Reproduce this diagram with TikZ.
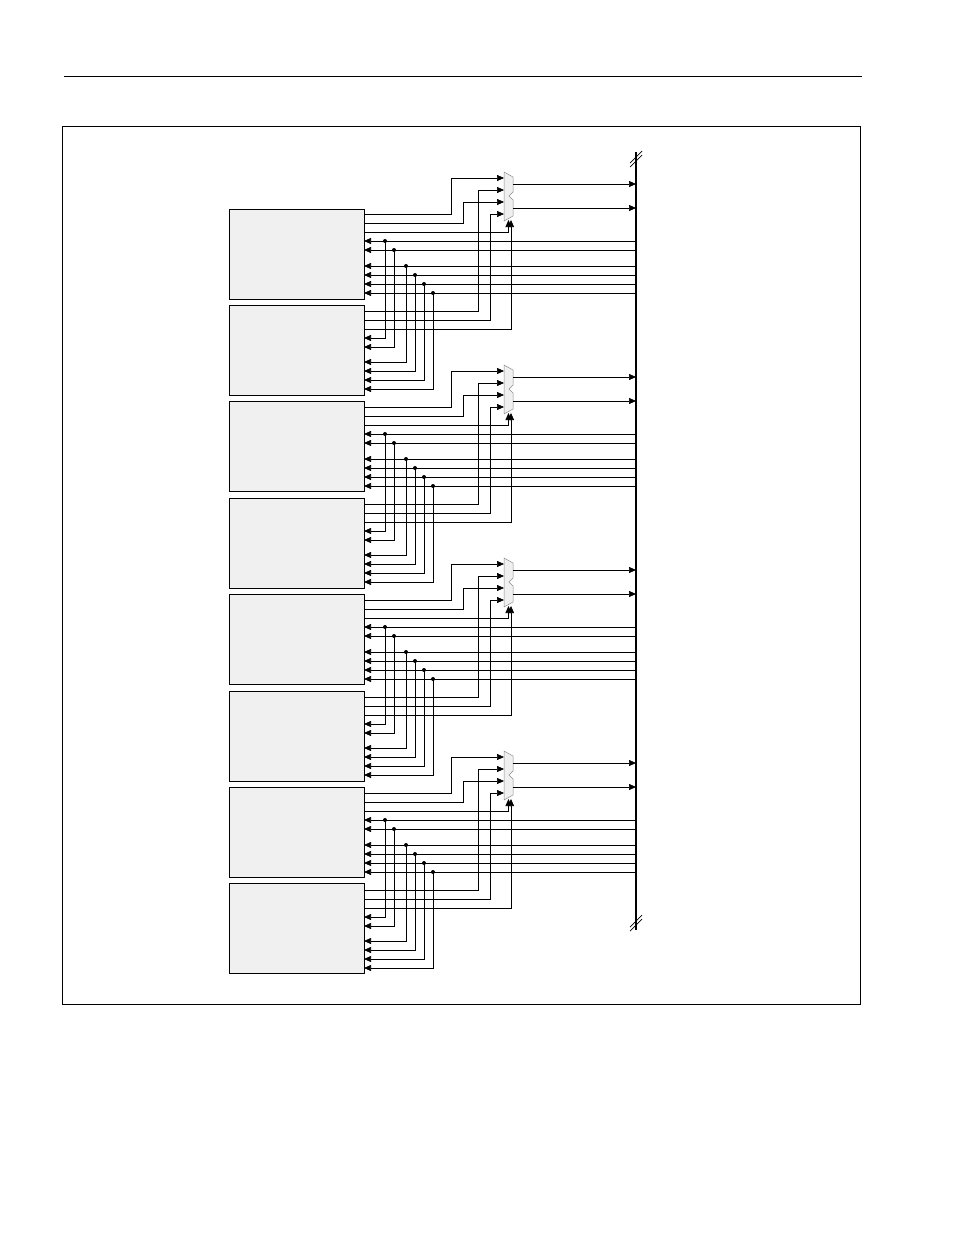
\documentclass[tikz,border=0pt]{standalone}
\usetikzlibrary{arrows.meta}
\tikzset{
  blockbox/.style={draw,fill=black!6,line width=0.6pt},
  muxbox/.style={draw=black!45,fill=black!6,line width=0.5pt},
  wire/.style={line width=0.7pt},
  sig/.style={wire,-{Triangle[length=7pt,width=6pt]}},
  tap/.style={fill,circle,inner sep=0pt,minimum size=4pt}
}
\begin{document}
\begin{tikzpicture}[x=1pt,y=-1pt]
\useasboundingbox (0,0) rectangle (954,1235);
% page rule and frame
\draw[line width=0.6pt] (64,76) -- (862,76);
\draw[line width=0.6pt] (62,126) rectangle (860,1004);
% bus
\draw[line width=1.6pt] (636,152) -- (636,930);
\draw[line width=0.7pt] (630,163) -- (642,151) (630,167) -- (642,155);
\draw[line width=0.7pt] (630,927) -- (642,915) (630,931) -- (642,919);
% blocks
\foreach \i in {0,...,7}
  \node[blockbox,minimum width=135pt,minimum height=90pt,anchor=north west,inner sep=0pt] (blk\i) at (229,{208.5+96.4*\i}) {};
% groups of two blocks, two muxes
\foreach \g in {0,...,3}{
  \pgfmathsetmacro{\o}{193*\g}
  % muxes
  \draw[muxbox] (504,172+\o) -- (513,177+\o) -- (513,192+\o) -- (509,196+\o) -- (513,200+\o)
     -- (513,216+\o) -- (504,221+\o) -- cycle;
  \draw[sig] (513,184+\o) -- (636,184+\o);
  \draw[sig] (513,208+\o) -- (636,208+\o);
  % upper block outputs
  \draw[sig] (364,214+\o) -| (451,178+\o) -- (504,178+\o);
  \draw[sig] (364,223+\o) -| (463,202+\o) -- (504,202+\o);
  \draw[sig] (364,232+\o) -| (508.5,220+\o);
  % lower block outputs
  \draw[sig] (364,311+\o) -| (478,190+\o) -- (504,190+\o);
  \draw[sig] (364,320+\o) -| (490,214+\o) -- (504,214+\o);
  \draw[sig] (364,329+\o) -| (511,220+\o);
  % bus inputs with taps to lower block
  \foreach \ya/\yb/\xt in {241/338/385,250/347/394,266/362/406,275/371/415,284/380/424,293/389/433}{
    \draw[sig] (636,\ya+\o) -- (364,\ya+\o);
    \node[tap] (t\g\xt) at (\xt,\ya+\o) {};
    \draw[sig] (t\g\xt.center) |- (364,\yb+\o);
  }
}
\end{tikzpicture}
\end{document}
